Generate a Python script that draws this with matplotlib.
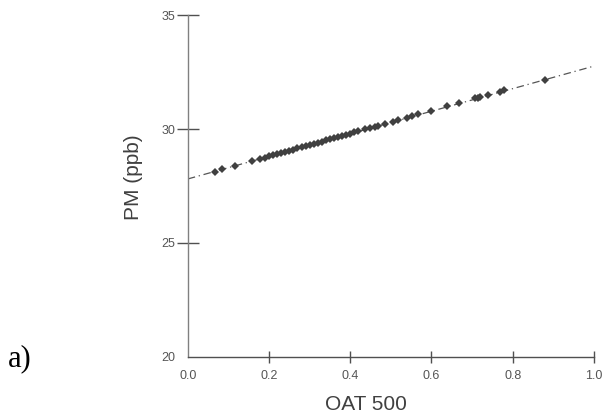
import matplotlib
matplotlib.use("Agg")
import matplotlib.pyplot as plt
import numpy as np

# data
oat = [0.066, 0.085, 0.116, 0.157, 0.177, 0.19, 0.20, 0.21, 0.22, 0.23,
       0.24, 0.25, 0.26, 0.27, 0.28, 0.29, 0.30, 0.31, 0.32, 0.33,
       0.34, 0.35, 0.36, 0.37, 0.38, 0.39, 0.40, 0.41, 0.42, 0.436,
       0.448, 0.46, 0.468, 0.485, 0.505, 0.517, 0.539, 0.552, 0.567, 0.599,
       0.638, 0.667, 0.707, 0.714, 0.719, 0.739, 0.768, 0.778, 0.879]
pm = [28.13, 28.23, 28.38, 28.59, 28.69, 28.75, 28.80, 28.85, 28.90, 28.95,
      29.00, 29.05, 29.10, 29.15, 29.20, 29.25, 29.30, 29.35, 29.40, 29.45,
      29.50, 29.55, 29.60, 29.65, 29.70, 29.75, 29.80, 29.85, 29.90, 29.98,
      30.04, 30.10, 30.14, 30.23, 30.33, 30.39, 30.50, 30.56, 30.64, 30.80,
      30.99, 31.14, 31.34, 31.37, 31.40, 31.50, 31.64, 31.69, 32.16]
fit_x = [0.0, 1.0]
fit_y = [27.81, 32.76]

xticks = [0.0, 0.2, 0.4, 0.6, 0.8, 1.0]
yticks = [20, 25, 30, 35]

plt.rcParams['font.family'] = ['Liberation Sans', 'DejaVu Sans']

fig = plt.figure(figsize=(6.06, 4.18), dpi=100)
ax = fig.add_axes([0.310, 0.146, 0.670, 0.818])

ax.plot(fit_x, fit_y, color='#555555', lw=0.9, ls=(0, (6, 3, 1, 3)), zorder=1)
ax.plot(oat, pm, ls='none', marker='D', ms=4.3, color='#404040',
        markeredgewidth=0, zorder=2)

ax.set_xlim(0, 1.0)
ax.set_ylim(20, 35)
ax.set_xticks(xticks)
ax.set_xticklabels(['%.1f' % t for t in xticks])
ax.set_yticks(yticks)

for s in ['top', 'right']:
    ax.spines[s].set_visible(False)
ax.spines['left'].set_color('#808080')
ax.spines['bottom'].set_color('#505050')
ax.spines['left'].set_linewidth(1.0)
ax.spines['bottom'].set_linewidth(1.0)

ax.tick_params(axis='y', direction='inout', length=16, width=1.0,
               color='#505050', labelsize=9, labelcolor='#555555', pad=1)
ax.tick_params(axis='x', direction='inout', length=9, width=1.0,
               color='#505050', labelsize=9, labelcolor='#555555', pad=5)
ax.yaxis.get_major_ticks()[0].tick1line.set_visible(False)
ax.xaxis.get_major_ticks()[0].tick1line.set_visible(False)

ax.set_xlabel('OAT 500', fontsize=15, color='#404040', va='center')
ax.xaxis.set_label_coords(0.438, -0.140)
ax.set_ylabel('PM (ppb)', fontsize=15, color='#404040', va='center')
ax.yaxis.set_label_coords(-0.135, 0.526)

fig.text(0.013, 0.141, 'a)', fontsize=22, family='Liberation Serif',
         color='black', va='center')

fig.savefig('out.png', dpi=100)
